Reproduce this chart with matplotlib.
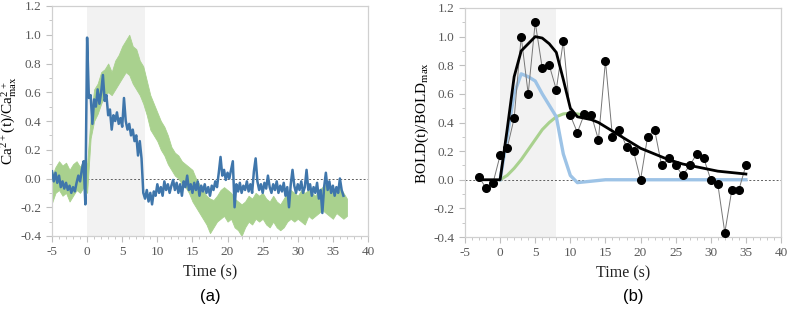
import numpy as np
import matplotlib
matplotlib.use("Agg")
import matplotlib.pyplot as plt
from matplotlib.ticker import MultipleLocator

plt.rcParams["font.family"] = ["Liberation Serif", "DejaVu Serif"]
plt.rcParams["mathtext.fontset"] = "custom"
plt.rcParams["mathtext.rm"] = "Liberation Serif"
plt.rcParams["axes.unicode_minus"] = False

# (a) calcium traces
# blue trace, sampled every 0.25 s from -5 s (one row per second)
blue_a = [
    0.05, -0.02, 0.04, -0.03,
    0.02, -0.06, -0.02, -0.07,
    -0.03, -0.08, -0.05, -0.10,
    -0.06, -0.09, -0.03, 0.02,
    -0.02, 0.06, 0.12, -0.18,
    0.98, 0.56, 0.58, 0.38,
    0.55, 0.50, 0.62, 0.52,
    0.60, 0.72, 0.54, 0.58,
    0.44, 0.48, 0.34, 0.44,
    0.40, 0.46, 0.38, 0.42,
    0.36, 0.56, 0.40, 0.34,
    0.38, 0.30, 0.34, 0.26,
    0.30, 0.16, 0.26, 0.14,
    -0.10, -0.14, -0.08, -0.16,
    -0.10, -0.18, -0.09, -0.12,
    -0.04, -0.10, -0.06, -0.12,
    -0.02, -0.08, -0.04, -0.10,
    -0.05, -0.01, -0.08, -0.03,
    -0.10, -0.04, -0.12, -0.02,
    -0.06, 0.02, -0.08, -0.04,
    -0.10, -0.03, -0.08, -0.02,
    -0.12, -0.05, -0.09, -0.04,
    -0.10, -0.06, -0.12, -0.05,
    -0.08, -0.02, -0.06, 0.04,
    0.15, 0.02, 0.06, -0.01,
    0.04, 0.00, 0.06, 0.12,
    -0.20, -0.04, -0.09, -0.03,
    -0.10, -0.05, -0.08, -0.02,
    -0.09, -0.04, -0.10, 0.05,
    0.14, -0.02, -0.08, -0.04,
    -0.10, -0.03, -0.07, 0.02,
    -0.06, -0.10, -0.04, -0.08,
    -0.02, -0.10, -0.05, -0.09,
    -0.03, -0.12, -0.06, -0.20,
    -0.04, 0.06, -0.05, -0.10,
    -0.04, -0.08, -0.02, -0.10,
    -0.06, 0.06, -0.08, -0.04,
    -0.12, -0.06, -0.10, -0.03,
    -0.14, -0.08, -0.24, -0.06,
    0.04, -0.08, -0.02, -0.10,
    -0.05, -0.12, -0.06, -0.10,
    0.00, -0.08, -0.12,
]
t_blue = -5 + 0.25 * np.arange(len(blue_a))

# green trace envelope, every 0.5 s from -5 s
green_hi = [
    0.02, 0.08, 0.12, 0.09, 0.11, 0.06, 0.10, 0.12, 0.08, 0.13,
    0.10, 0.42, 0.62, 0.66, 0.74, 0.76, 0.80, 0.74, 0.82, 0.86,
    0.92, 0.96, 1.00, 0.92, 0.90, 0.82, 0.78, 0.68, 0.58, 0.52,
    0.46, 0.40, 0.36, 0.30, 0.22, 0.18, 0.16, 0.12, 0.10, 0.08,
    0.06, 0.00, -0.04, -0.08, -0.12, -0.14, -0.15, -0.12, -0.08, -0.06,
    -0.08, -0.10, -0.14, -0.16, -0.18, -0.16, -0.12, -0.14, -0.10, -0.12,
    -0.10, -0.14, -0.16, -0.12, -0.16, -0.18, -0.14, -0.10, -0.08, -0.10,
    -0.12, -0.08, -0.10, -0.08, -0.10, -0.12, -0.08, -0.06, -0.04, -0.06,
    -0.08, -0.10, -0.06, -0.10, -0.14,
]
green_lo = [
    -0.17, -0.10, -0.08, -0.12, -0.10, -0.16, -0.12, -0.08, -0.10, -0.06,
    -0.10, 0.28, 0.40, 0.45, 0.52, 0.58, 0.60, 0.58, 0.62, 0.66,
    0.70, 0.74, 0.72, 0.66, 0.62, 0.58, 0.52, 0.44, 0.34, 0.30,
    0.26, 0.20, 0.16, 0.10, 0.06, 0.02, 0.00, -0.04, -0.06, -0.10,
    -0.16, -0.20, -0.24, -0.28, -0.32, -0.38, -0.34, -0.30, -0.28, -0.26,
    -0.30, -0.28, -0.34, -0.36, -0.40, -0.34, -0.30, -0.32, -0.28, -0.30,
    -0.28, -0.32, -0.34, -0.30, -0.34, -0.36, -0.34, -0.30, -0.28, -0.30,
    -0.28, -0.30, -0.32, -0.26, -0.28, -0.26, -0.24, -0.22, -0.24, -0.26,
    -0.28, -0.24, -0.26, -0.28, -0.26,
]
t_green = -5 + 0.5 * np.arange(len(green_hi))

# (b) BOLD
t_b = list(range(-3, 36))
bold_pts = [
    0.02, -0.06, -0.02, 0.17, 0.22, 0.43, 1.00, 0.60, 1.10, 0.78,
    0.80, 0.63, 0.97, 0.45, 0.33, 0.46, 0.45, 0.28, 0.83, 0.30,
    0.35, 0.23, 0.20, 0.00, 0.30, 0.35, 0.10, 0.15, 0.10, 0.03,
    0.10, 0.18, 0.15, 0.00, -0.03, -0.37, -0.07, -0.07, 0.10,
]
bold_fit = [
    0.0, 0.0, 0.0, 0.0, 0.35, 0.72, 0.90, 0.95, 1.00, 0.99,
    0.95, 0.89, 0.70, 0.50, 0.44, 0.43, 0.42, 0.40, 0.37, 0.34,
    0.31, 0.28, 0.25, 0.22, 0.20, 0.18, 0.16, 0.14, 0.125, 0.11,
    0.10, 0.09, 0.08, 0.07, 0.06, 0.055, 0.05, 0.045, 0.04,
]
t_fast = list(range(0, 36))
bold_fast = [
    0.0, 0.30, 0.60, 0.74, 0.72, 0.69, 0.60, 0.52, 0.44, 0.18,
    0.03, -0.02, -0.015, -0.01, -0.005, 0.0, 0.0, 0.0, 0.0, 0.0,
    0.0, 0.0, 0.0, 0.0, 0.0, 0.0, 0.0, 0.0, 0.0, 0.0,
    0.0, 0.0, 0.0, 0.0, 0.0, 0.0,
]
t_slow = list(range(0, 14))
bold_slow = [0.0, 0.03, 0.08, 0.14, 0.21, 0.28, 0.35, 0.40, 0.44, 0.46,
             0.465, 0.46, 0.45, 0.44]

fig = plt.figure(figsize=(7.89, 3.11), dpi=100)
ax1 = fig.add_axes([52 / 789, 75 / 311, 316 / 789, 230 / 311])
ax2 = fig.add_axes([465 / 789, 74 / 311, 316 / 789, 229 / 311])


def style(ax):
    ax.set_xlim(-5, 40)
    ax.set_ylim(-0.4, 1.2)
    ax.xaxis.set_major_locator(MultipleLocator(5))
    ax.xaxis.set_minor_locator(MultipleLocator(1))
    ax.yaxis.set_major_locator(MultipleLocator(0.2))
    ax.yaxis.set_minor_locator(MultipleLocator(0.1))
    ax.yaxis.set_major_formatter(plt.FuncFormatter(lambda v, p: "%.1f" % v))
    for s in ax.spines.values():
        s.set_color("#d0d0d0")
        s.set_linewidth(0.9)
    ax.tick_params(which="major", length=4, color="#bfbfbf", labelsize=9.5,
                   labelcolor="#595959", direction="out")
    ax.tick_params(which="minor", length=2.5, color="#bfbfbf", direction="out")
    ax.axhline(0, color="#606060", lw=0.7, ls=(0, (2, 2)), zorder=1)
    ax.set_xlabel("Time (s)", fontsize=11.5, color="#222222", labelpad=4)


style(ax1)
ax1.axvspan(0, 8.2, color="#f2f2f2", zorder=0, lw=0)
ax1.fill_between(t_green, green_lo, green_hi, color="#a9d18e", lw=0.6,
                 edgecolor="#a9d18e", zorder=2)
ax1.plot(t_blue, blue_a, color="#3f76ab", lw=1.8, zorder=3)
ax1.set_ylabel(r"$\mathrm{Ca^{2+}(t)/Ca^{2+}_{max}}$", fontsize=11, labelpad=2)

style(ax2)
ax2.axvspan(0, 8, color="#f2f2f2", zorder=0, lw=0)
ax2.plot(t_slow, bold_slow, color="#a9d18e", lw=2.2, zorder=2)
ax2.plot(t_fast, bold_fast, color="#9dc3e6", lw=2.4, zorder=2)
ax2.plot(t_b, bold_pts, color="#777777", lw=0.7, zorder=3)
ax2.plot(t_b, bold_pts, "o", color="black", ms=5.5, zorder=4)
ax2.plot(t_b, bold_fit, color="black", lw=2.0, zorder=5)
ax2.set_ylabel(r"BOLD(t)/BOLD$_\mathrm{max}$", fontsize=11, labelpad=2)

fig.text(210 / 789, 1 - 296 / 311, "(a)", ha="center", va="center",
         fontsize=12, family="Liberation Sans")
fig.text(633 / 789, 1 - 296 / 311, "(b)", ha="center", va="center",
         fontsize=12, family="Liberation Sans")

fig.savefig("out.png", dpi=100)
